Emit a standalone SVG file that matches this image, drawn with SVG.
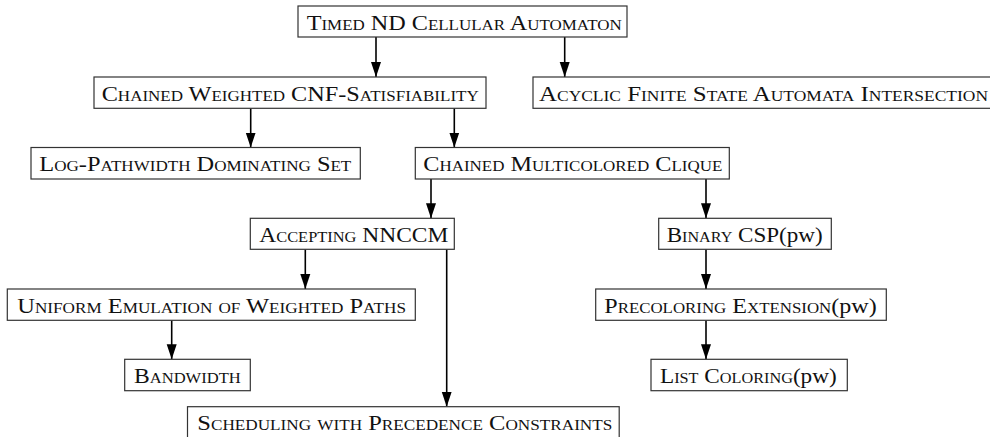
<svg xmlns="http://www.w3.org/2000/svg" width="990" height="437" viewBox="0 0 990 437">
<defs>
<style>
.box{fill:#fff;stroke:#333;stroke-width:1.2}
.lbl{font-family:"Liberation Serif","DejaVu Serif",serif;font-size:20px;font-variant:small-caps;fill:#111}
.nv{font-variant:normal}
.edge{stroke:#000;stroke-width:1.6;fill:none;marker-end:url(#ah)}
</style>
<marker id="ah" markerUnits="userSpaceOnUse" markerWidth="15" markerHeight="11" refX="15" refY="5.5" orient="auto" viewBox="0 0 15 11">
<path d="M0,0.5 L15,5.5 L0,10.5 z" fill="#000"/>
</marker>
</defs>
<rect width="990" height="437" fill="#fff"/>
<g id="connectors">
<path class="edge" d="M376,37 V77"/>
<path class="edge" d="M564.7,37 V77"/>
<path class="edge" d="M250.7,108.3 V147.5"/>
<path class="edge" d="M454.3,108.3 V147.5"/>
<path class="edge" d="M431,179 V218.3"/>
<path class="edge" d="M706,179 V218.3"/>
<path class="edge" d="M305.3,249.3 V289"/>
<path class="edge" d="M446.7,249.3 V406.7"/>
<path class="edge" d="M706,249.3 V289"/>
<path class="edge" d="M171.7,320.3 V359.3"/>
<path class="edge" d="M706,320.3 V359.3"/>
</g>
<g id="timed"><rect class="box" x="298" y="6" width="329" height="31"/><text class="lbl" x="306.7" y="29.5" textLength="315" lengthAdjust="spacingAndGlyphs">Timed ND Cellular Automaton</text></g>
<g id="cw"><rect class="box" x="94" y="77" width="392" height="31.3"/><text class="lbl" x="101.7" y="100.5" textLength="377" lengthAdjust="spacingAndGlyphs">Chained Weighted CNF-Satisfiability</text></g>
<g id="acyclic"><rect class="box" x="533" y="77" width="470" height="31.3"/><text class="lbl" x="539" y="100.5" textLength="449" lengthAdjust="spacingAndGlyphs">Acyclic Finite State Automata Intersection</text></g>
<g id="log"><rect class="box" x="31" y="147.5" width="329.3" height="31.5"/><text class="lbl" x="39.3" y="171" textLength="312" lengthAdjust="spacingAndGlyphs">Log-Pathwidth Dominating Set</text></g>
<g id="cmc"><rect class="box" x="415.3" y="147.5" width="314" height="31.5"/><text class="lbl" x="423.3" y="171" textLength="299" lengthAdjust="spacingAndGlyphs">Chained Multicolored Clique</text></g>
<g id="accepting"><rect class="box" x="250.3" y="218.3" width="204" height="31"/><text class="lbl" x="259.3" y="241.8" textLength="189" lengthAdjust="spacingAndGlyphs">Accepting NNCCM</text></g>
<g id="binary"><rect class="box" x="658.7" y="218.3" width="172.6" height="31"/><text class="lbl" x="666.7" y="241.8" textLength="156" lengthAdjust="spacingAndGlyphs">Binary CSP<tspan class="nv">(pw)</tspan></text></g>
<g id="uniform"><rect class="box" x="7.3" y="289" width="408" height="31.3"/><text class="lbl" x="17.3" y="312.5" textLength="388.7" lengthAdjust="spacingAndGlyphs">Uniform Emulation of Weighted Paths</text></g>
<g id="precoloring"><rect class="box" x="595.7" y="289" width="290.6" height="31.3"/><text class="lbl" x="604.3" y="312.5" textLength="272.4" lengthAdjust="spacingAndGlyphs">Precoloring Extension<tspan class="nv">(pw)</tspan></text></g>
<g id="bandwidth"><rect class="box" x="124.7" y="359.3" width="125.6" height="31.4"/><text class="lbl" x="134" y="382.8" textLength="106.7" lengthAdjust="spacingAndGlyphs">Bandwidth</text></g>
<g id="list"><rect class="box" x="651" y="359.3" width="196.3" height="31.4"/><text class="lbl" x="660" y="382.8" textLength="176.7" lengthAdjust="spacingAndGlyphs">List Coloring<tspan class="nv">(pw)</tspan></text></g>
<g id="scheduling"><rect class="box" x="187.5" y="406.7" width="431.7" height="40"/><text class="lbl" x="197.3" y="430.2" textLength="415" lengthAdjust="spacingAndGlyphs">Scheduling with Precedence Constraints</text></g>
</svg>
